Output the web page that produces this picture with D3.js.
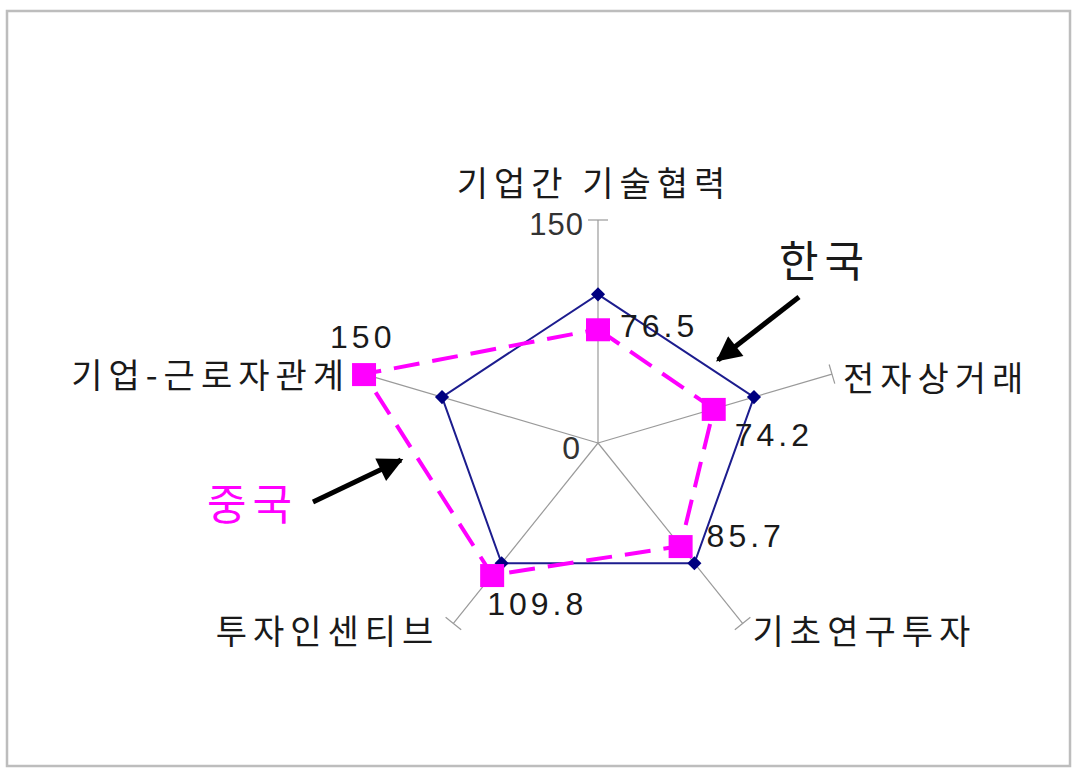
<!DOCTYPE html>
<html>
<head>
<meta charset="utf-8">
<script src="https://cdn.jsdelivr.net/npm/d3@7"></script>
<style>
    body { margin: 0; background: white; }
    .kr { font-family: "Noto Sans CJK KR", sans-serif; }
    .num { font-family: "Liberation Sans", Arial, sans-serif; }
</style>
</head>
<body>
<div id="chart"></div>
<script>
// data
const axes = ['기업간 기술협력', '전자상거래', '기초연구투자', '투자인센티브', '기업-근로자관계']
const korea = [100, 100, 100, 100, 100]
const china = [76.5, 74.2, 85.7, 109.8, 150]
const maxValue = 150

// label offsets (px) relative to marker / axis end
const chinaLabelOffsets = [[22, 8], [21, 37], [26, 1], [-5, 40], [-34, -26]]
const axisLabelPos = [
    { dx: -4, dy: -24, anchor: 'middle' },
    { dx: 11, dy: 17, anchor: 'start' },
    { dx: 10, dy: 21, anchor: 'start' },
    { dx: -14, dy: 21, anchor: 'end' },
    { dx: -14, dy: 14, anchor: 'end' }
]

function drawRadar() {
    var width = 1078,
        height = 772,
        cx = 598,
        cy = 443;

    var svg = d3.select('#chart')
        .append('svg')
        .attr('width', width)
        .attr('height', height)

    // frame
    svg.append('rect')
        .attr('x', 7).attr('y', 11)
        .attr('width', 1063).attr('height', 755)
        .attr('fill', 'white')
        .attr('stroke', '#bdbdbd')
        .attr('stroke-width', 2.5)

    // chart is a little wider than tall
    var rx = d3.scaleLinear().domain([0, maxValue]).range([0, 246])
    var ry = d3.scaleLinear().domain([0, maxValue]).range([0, 223])

    let angle = i => (-90 + 72 * i) * Math.PI / 180
    let pt = (v, i) => [cx + rx(v) * Math.cos(angle(i)), cy + ry(v) * Math.sin(angle(i))]

    // axes
    var axisG = svg.append('g')
    axes.forEach((name, i) => {
        let end = pt(maxValue, i)
        axisG.append('line')
            .attr('x1', cx).attr('y1', cy)
            .attr('x2', end[0]).attr('y2', end[1])
            .attr('stroke', '#9a9a9a')
            .attr('stroke-width', 1.2)
        // tick mark perpendicular to axis
        let dx = end[0] - cx, dy = end[1] - cy
        let len = Math.sqrt(dx * dx + dy * dy)
        let px = -dy / len * 10, py = dx / len * 10
        axisG.append('line')
            .attr('x1', end[0] - px).attr('y1', end[1] - py)
            .attr('x2', end[0] + px).attr('y2', end[1] + py)
            .attr('stroke', '#9a9a9a')
            .attr('stroke-width', 1.2)

        let p = axisLabelPos[i]
        svg.append('text')
            .attr('class', 'kr')
            .attr('x', end[0] + p.dx)
            .attr('y', end[1] + p.dy)
            .attr('text-anchor', p.anchor)
            .attr('font-size', 34)
            .attr('letter-spacing', 6)
            .attr('fill', '#1a1a1a')
            .text(name)
    })

    // value axis labels
    let top = pt(maxValue, 0)
    svg.append('text')
        .attr('class', 'num')
        .attr('x', top[0] - 14).attr('y', top[1] + 15)
        .attr('text-anchor', 'end')
        .attr('font-size', 31)
        .attr('letter-spacing', 1)
        .attr('fill', '#333')
        .text(maxValue)
    svg.append('text')
        .attr('class', 'num')
        .attr('x', cx - 18).attr('y', cy + 16)
        .attr('text-anchor', 'end')
        .attr('font-size', 32)
        .attr('fill', '#333')
        .text(0)

    var line = d3.line().curve(d3.curveLinearClosed)

    // Korea
    svg.append('path')
        .attr('d', line(korea.map(pt)))
        .attr('fill', 'none')
        .attr('stroke', '#1c1c8e')
        .attr('stroke-width', 2)
    svg.selectAll('.kr-marker')
        .data(korea)
        .enter().append('rect')
        .attr('class', 'kr-marker')
        .attr('x', -5).attr('y', -5)
        .attr('width', 10).attr('height', 10)
        .attr('fill', '#000080')
        .attr('transform', (d, i) => `translate(${pt(d, i)}) rotate(45)`)

    // China
    svg.append('path')
        .attr('d', line(china.map(pt)))
        .attr('fill', 'none')
        .attr('stroke', '#ff00ff')
        .attr('stroke-width', 4)
        .attr('stroke-dasharray', '26,13')
    svg.selectAll('.cn-marker')
        .data(china)
        .enter().append('rect')
        .attr('class', 'cn-marker')
        .attr('x', -12).attr('y', -11)
        .attr('width', 24).attr('height', 23)
        .attr('fill', '#ff00ff')
        .attr('transform', (d, i) => `translate(${pt(d, i)})`)
    svg.selectAll('.cn-label')
        .data(china)
        .enter().append('text')
        .attr('class', 'num cn-label')
        .attr('x', (d, i) => pt(d, i)[0] + chinaLabelOffsets[i][0])
        .attr('y', (d, i) => pt(d, i)[1] + chinaLabelOffsets[i][1])
        .attr('font-size', 32)
        .attr('letter-spacing', 4)
        .attr('fill', '#1a1a1a')
        .text(d => d)

    // annotations
    svg.append('defs').append('marker')
        .attr('id', 'arrow')
        .attr('viewBox', '0 0 10 10')
        .attr('refX', 9).attr('refY', 5)
        .attr('markerWidth', 5.5).attr('markerHeight', 5)
        .attr('markerUnits', 'strokeWidth')
        .attr('orient', 'auto')
        .append('path')
        .attr('d', 'M0,0 L10,5 L0,10 z')
        .attr('fill', 'black')

    svg.append('line')
        .attr('x1', 799).attr('y1', 297)
        .attr('x2', 718).attr('y2', 360)
        .attr('stroke', 'black')
        .attr('stroke-width', 5)
        .attr('marker-end', 'url(#arrow)')
    svg.append('text')
        .attr('class', 'kr')
        .attr('x', 779).attr('y', 277)
        .attr('font-size', 43)
        .attr('letter-spacing', 6)
        .attr('fill', '#1a1a1a')
        .text('한국')

    svg.append('line')
        .attr('x1', 313).attr('y1', 502)
        .attr('x2', 401).attr('y2', 460)
        .attr('stroke', 'black')
        .attr('stroke-width', 5)
        .attr('marker-end', 'url(#arrow)')
    svg.append('text')
        .attr('class', 'kr')
        .attr('x', 207).attr('y', 520)
        .attr('font-size', 43)
        .attr('letter-spacing', 6)
        .attr('fill', '#ff00ff')
        .text('중국')
}

drawRadar()
</script>
</body>
</html>
